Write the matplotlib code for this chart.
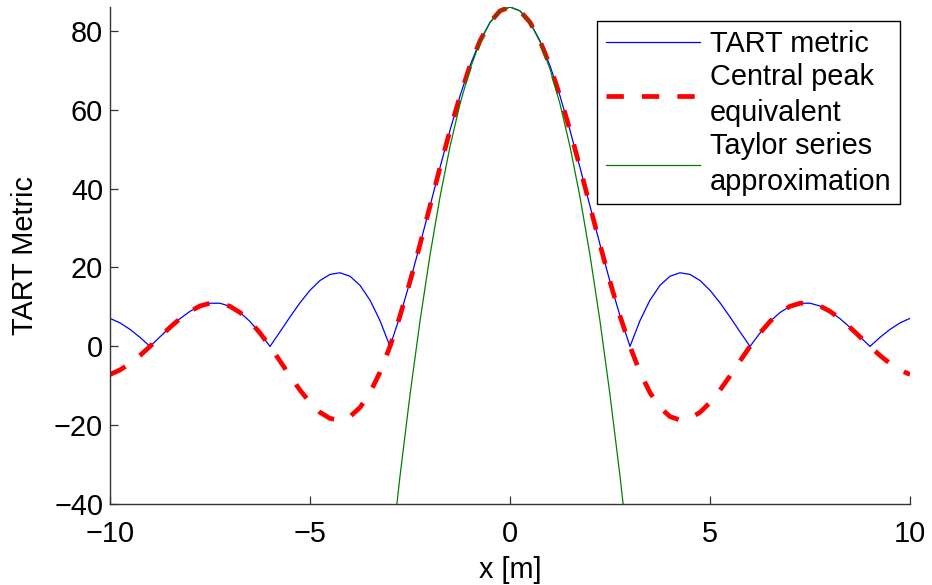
import matplotlib
matplotlib.use("Agg")
import matplotlib.pyplot as plt

plt.rcParams['font.family'] = ['Liberation Sans', 'DejaVu Sans']
plt.rcParams['lines.scale_dashes'] = False

# x positions [m]
x = [-10.0, -9.75, -9.5, -9.25, -9.0, -8.75, -8.5, -8.25, -8.0, -7.75, -7.5, -7.25,
     -7.0, -6.75, -6.5, -6.25, -6.0, -5.75, -5.5, -5.25, -5.0, -4.75, -4.5, -4.25,
     -4.0, -3.75, -3.5, -3.25, -3.0, -2.75, -2.5, -2.25, -2.0, -1.75, -1.5, -1.25,
     -1.0, -0.75, -0.5, -0.25, 0.0, 0.25, 0.5, 0.75, 1.0, 1.25, 1.5, 1.75,
     2.0, 2.25, 2.5, 2.75, 3.0, 3.25, 3.5, 3.75, 4.0, 4.25, 4.5, 4.75,
     5.0, 5.25, 5.5, 5.75, 6.0, 6.25, 6.5, 6.75, 7.0, 7.25, 7.5, 7.75,
     8.0, 8.25, 8.5, 8.75, 9.0, 9.25, 9.5, 9.75, 10.0]

# Central peak equivalent (signed)
central = [-7.11, -5.96, -4.32, -2.30, 0.0, 2.43, 4.83, 7.04, 8.89, 10.24, 10.95, 10.94,
           10.16, 8.60, 6.32, 3.40, 0.0, -3.70, -7.47, -11.06, -14.22, -16.70, -18.25, -18.66,
           -17.78, -15.48, -11.73, -6.54, 0.0, 7.73, 16.43, 25.81, 35.56, 45.33, 54.75, 63.46,
           71.12, 77.43, 82.12, 85.02, 86.0, 85.02, 82.12, 77.43, 71.12, 63.46, 54.75, 45.33,
           35.56, 25.81, 16.43, 7.73, 0.0, -6.54, -11.73, -15.48, -17.78, -18.66, -18.25, -16.70,
           -14.22, -11.06, -7.47, -3.70, 0.0, 3.40, 6.32, 8.60, 10.16, 10.94, 10.95, 10.24,
           8.89, 7.04, 4.83, 2.43, 0.0, -2.30, -4.32, -5.96, -7.11]

# TART metric (magnitude)
tart = [7.11, 5.96, 4.32, 2.30, 0.0, 2.43, 4.83, 7.04, 8.89, 10.24, 10.95, 10.94,
        10.16, 8.60, 6.32, 3.40, 0.0, 3.70, 7.47, 11.06, 14.22, 16.70, 18.25, 18.66,
        17.78, 15.48, 11.73, 6.54, 0.0, 7.73, 16.43, 25.81, 35.56, 45.33, 54.75, 63.46,
        71.12, 77.43, 82.12, 85.02, 86.0, 85.02, 82.12, 77.43, 71.12, 63.46, 54.75, 45.33,
        35.56, 25.81, 16.43, 7.73, 0.0, 6.54, 11.73, 15.48, 17.78, 18.66, 18.25, 16.70,
        14.22, 11.06, 7.47, 3.70, 0.0, 3.40, 6.32, 8.60, 10.16, 10.94, 10.95, 10.24,
        8.89, 7.04, 4.83, 2.43, 0.0, 2.30, 4.32, 5.96, 7.11]

# Taylor series approximation
x_taylor = [-3.0, -2.75, -2.5, -2.25, -2.0, -1.75, -1.5, -1.25, -1.0, -0.75, -0.5, -0.25,
            0.0, 0.25, 0.5, 0.75, 1.0, 1.25, 1.5, 1.75, 2.0, 2.25, 2.5, 2.75, 3.0]
taylor = [-55.48, -32.88, -12.25, 6.42, 23.12, 37.86, 50.63, 61.44, 70.28, 77.16, 82.07, 85.02,
          86.0, 85.02, 82.07, 77.16, 70.28, 61.44, 50.63, 37.86, 23.12, 6.42, -12.25, -32.88, -55.48]

labels = ["TART metric", "Central peak\nequivalent", "Taylor series\napproximation"]
xticks = [-10, -5, 0, 5, 10]
yticks = [-40, -20, 0, 20, 40, 60, 80]

FS = 20.8
fig = plt.figure(figsize=(9.32, 5.85), dpi=100)
ax = fig.add_axes([110/932, 1 - 504.3/585, 800/932, (504.3 - 7)/585])

ax.plot(x, tart, color=(0, 0, 1), lw=0.9, label=labels[0])
ax.plot(x, central, color=(1, 0, 0), lw=3.4, dashes=(12.5, 13), label=labels[1])
ax.plot(x_taylor, taylor, color=(0, 0.5, 0), lw=0.9, label=labels[2])

ax.set_xlim(-10, 10)
ax.set_ylim(-40, 86)
ax.set_xticks(xticks)
ax.set_yticks(yticks)
ax.set_xticklabels([str(v).replace('-', '\u2212') for v in xticks])
ax.set_yticklabels([str(v).replace('-', '\u2212') for v in yticks])

for s in ['top', 'right']:
    ax.spines[s].set_visible(False)
for s in ['left', 'bottom']:
    ax.spines[s].set_color('#333333')
    ax.spines[s].set_linewidth(1.0)

ax.tick_params(direction='in', length=5.5, width=0.9, color='#333333',
               labelsize=FS, labelcolor='black')
ax.tick_params(axis='y', pad=5)
ax.tick_params(axis='x', pad=11)

ax.set_xlabel("x [m]", fontsize=FS, labelpad=6)
ax.set_ylabel("TART Metric", fontsize=FS, labelpad=11)

leg = ax.legend(loc='upper left', bbox_to_anchor=((597 - 110)/800, (504.3 - 21)/497.3),
                fontsize=FS, frameon=True, fancybox=False, edgecolor='black',
                framealpha=1, handlelength=3.25, handletextpad=0.35, borderpad=0.3,
                labelspacing=0.2, borderaxespad=0)
leg.get_frame().set_linewidth(1.0)
for t in leg.get_texts():
    t.set_linespacing(1.33)

fig.savefig("out.png", dpi=100)
